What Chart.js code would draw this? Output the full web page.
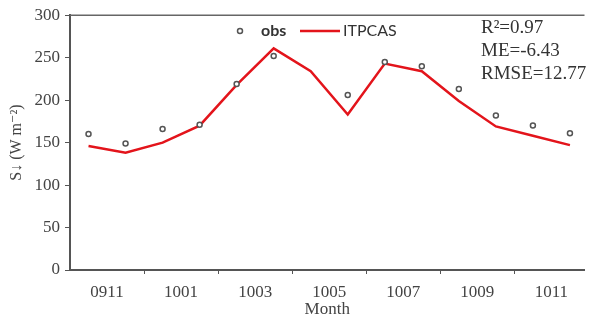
<!DOCTYPE html>
<html lang="en">
<head>
  <meta charset="UTF-8">
  <script src="https://cdn.jsdelivr.net/npm/chart.js@4.4.1/dist/chart.umd.min.js"></script>
  <style>
    * { margin: 0; padding: 0; box-sizing: border-box; }
    body { background: #fff; }
    #wrap { width: 590px; height: 320px; }
  </style>
  <title>S down obs vs ITPCAS</title>
</head>
<body>
  <div id="wrap"><canvas id="myChart"></canvas></div>

<script>
  // monthly periods (yymm), label shown for every other one
  var periods = ["0911", "0912", "1001", "1002", "1003", "1004", "1005",
                 "1006", "1007", "1008", "1009", "1010", "1011", "1012"];
  var obsValues = [160, 149, 166, 171, 219, 252, null, 206, 245, 240, 213, 182, 170, 161];
  var itpcasValues = [146, 138, 150, 170, 218, 261, 234, 183, 243, 234, 199, 169, 158, 147];
  var yTicks = [0, 50, 100, 150, 200, 250, 300];
  var statLines = ["R\u00b2=0.97", "ME=-6.43", "RMSE=12.77"];

  var axisColor = "#555";
  var serif = "'Liberation Serif', 'DejaVu Serif', serif";

  function toPoints(arr) {
    return arr.map(function (v, i) { return { x: i + 0.5, y: v }; });
  }

  // legend + stats box drawn on top of the plot
  var overlay = {
    id: "overlay",
    afterDraw: function (chart) {
      var ctx = chart.ctx;
      var area = chart.chartArea;
      ctx.save();

      // top frame line
      ctx.strokeStyle = "#666";
      ctx.lineWidth = 1.5;
      ctx.beginPath();
      ctx.moveTo(area.left, area.top);
      ctx.lineTo(area.right, area.top);
      ctx.stroke();

      // legend
      var ly = 31;
      ctx.strokeStyle = "#555";
      ctx.lineWidth = 1.5;
      ctx.beginPath();
      ctx.arc(240, ly, 2.5, 0, Math.PI * 2);
      ctx.stroke();
      ctx.fillStyle = "#333";
      ctx.font = "bold 16px Lato, 'Open Sans', sans-serif";
      ctx.textBaseline = "middle";
      ctx.textAlign = "left";
      ctx.fillText("obs", 261, ly);
      ctx.strokeStyle = "#e3141b";
      ctx.lineWidth = 2.5;
      ctx.beginPath();
      ctx.moveTo(300, ly);
      ctx.lineTo(340, ly);
      ctx.stroke();
      ctx.font = "16px Lato, 'Open Sans', sans-serif";
      ctx.fillText("ITPCAS", 343, ly);

      // statistics
      ctx.font = "19px " + serif;
      ctx.fillStyle = "#333";
      ctx.textBaseline = "alphabetic";
      statLines.forEach(function (s, i) {
        ctx.fillText(s, 481, 33 + i * 23);
      });
      ctx.restore();
    }
  };

  var myChart = new Chart("myChart", {
    type: "line",
    data: {
      datasets: [{
        label: "obs",
        data: toPoints(obsValues),
        showLine: false,
        pointStyle: "circle",
        pointRadius: 2.5,
        pointBorderWidth: 1.5,
        pointBorderColor: "#555",
        pointBackgroundColor: "#fff",
        order: 0
      }, {
        label: "ITPCAS",
        data: toPoints(itpcasValues),
        borderColor: "#e3141b",
        borderWidth: 2.5,
        pointRadius: 0,
        tension: 0,
        fill: false,
        order: 1
      }]
    },
    plugins: [overlay],
    options: {
      responsive: true,
      maintainAspectRatio: false,
      animation: false,
      layout: { padding: { top: 10, right: 0, left: 0, bottom: 0 } },
      plugins: {
        legend: { display: false },
        tooltip: { enabled: false }
      },
      scales: {
        x: {
          type: "linear",
          min: 0,
          max: 520 / (524 / 14),
          afterBuildTicks: function (scale) {
            var t = [];
            for (var v = 0; v <= 13; v++) t.push({ value: v });
            scale.ticks = t;
          },
          afterFit: function (scale) { scale.height = 50; },
          border: { display: true, color: axisColor, width: 2 },
          grid: {
            drawOnChartArea: false,
            drawTicks: true,
            tickLength: 4,
            tickColor: function (c) {
              return (c.tick && c.tick.value % 2 === 0 && c.tick.value > 0) ? axisColor : "rgba(0,0,0,0)";
            }
          },
          ticks: {
            autoSkip: false,
            maxRotation: 0,
            padding: 8,
            color: "#444",
            font: { family: serif, size: 17 },
            callback: function (v) {
              return v % 2 === 1 ? periods[v - 1] : "";
            }
          },
          title: {
            display: true,
            text: "Month",
            color: "#444",
            font: { family: serif, size: 17 },
            padding: { top: 0, bottom: 0 }
          }
        },
        y: {
          min: 0,
          max: 300,
          afterBuildTicks: function (scale) {
            scale.ticks = yTicks.map(function (v) { return { value: v }; });
          },
          afterFit: function (scale) { scale.width = 70; },
          border: { display: true, color: axisColor, width: 2 },
          grid: {
            drawOnChartArea: false,
            drawTicks: true,
            tickLength: 5,
            tickColor: axisColor
          },
          ticks: {
            padding: 5,
            color: "#444",
            font: { family: serif, size: 17 }
          },
          title: {
            display: true,
            text: "S\u2193 (W m\u207b\u00b2)",
            color: "#444",
            font: { family: serif, size: 16 },
            padding: { top: 7, bottom: 0 }
          }
        }
      }
    }
  });
</script>
</body>
</html>
